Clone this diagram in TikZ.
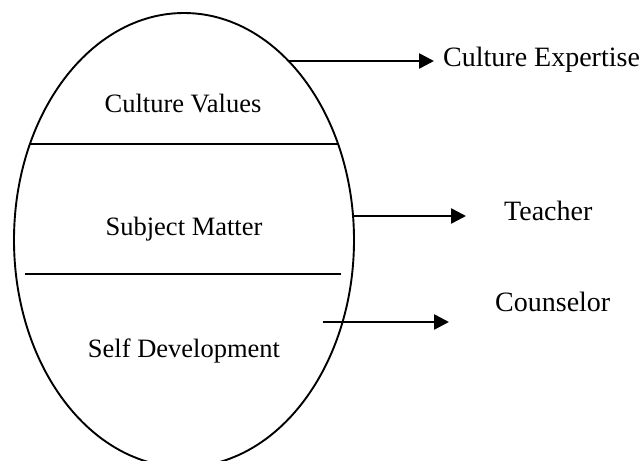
\documentclass[tikz,border=0pt]{standalone}
\usepackage{fontspec}
\setmainfont{Liberation Serif}
\usetikzlibrary{arrows.meta}

\tikzset{
  inlabel/.style={anchor=base, font=\fontsize{26.5}{30}\selectfont, inner sep=0pt},
  outlabel/.style={anchor=base west, font=\fontsize{28}{32}\selectfont, inner sep=0pt},
  rolearrow/.style={line width=2.6pt, -{Triangle[length=15pt,width=15pt]}}
}

\begin{document}
\begin{tikzpicture}[x=1pt, y=-1pt]
  \useasboundingbox (0,0) rectangle (641,461);

  % Oval with its three layers
  \draw[line width=1.9pt] (184,240) ellipse [x radius=170, y radius=227];
  \draw[line width=2.1pt] (30,144) -- (338,144);
  \draw[line width=2.1pt] (25,274) -- (341,274);

  \node[inlabel] (values) at (183,112) {Culture Values};
  \node[inlabel] (subject) at (184,235) {Subject Matter};
  \node[inlabel] (self) at (184,357) {Self Development};

  % Roles on the right
  \node[outlabel] (expert) at (443,66) {Culture Expertise};
  \node[outlabel] (teacher) at (504,220) {Teacher};
  \node[outlabel] (counsel) at (495,311) {Counselor};

  % Arrows
  \coordinate (a1) at (288,61);  \coordinate (b1) at (434,61);
  \coordinate (a2) at (353,216); \coordinate (b2) at (466,216);
  \coordinate (a3) at (323,322); \coordinate (b3) at (449,322);
  \draw[rolearrow] (a1) -- (b1);
  \draw[rolearrow] (a2) -- (b2);
  \draw[rolearrow] (a3) -- (b3);
\end{tikzpicture}
\end{document}
